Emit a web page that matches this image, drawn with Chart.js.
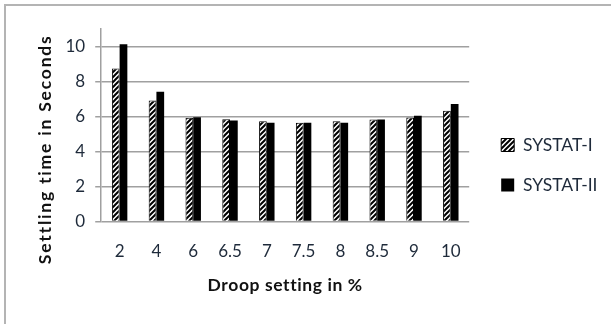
<!DOCTYPE html>
<html>
<head>
<meta charset="utf-8">
<script src="https://cdn.jsdelivr.net/npm/chart.js@4/dist/chart.umd.min.js"></script>
<style>
  html, body { margin: 0; padding: 0; background: #fff; }
  #frame {
    position: absolute; left: 4px; top: 4px; width: 620px; height: 340px;
    border-left: 2px solid #b4b4b4; border-top: 2px solid #b4b4b4;
  }
  #wrap { position: absolute; left: 0; top: 0; width: 611px; height: 324px; }
</style>
</head>
<body>
<div id="frame"></div>
<div id="wrap"><canvas id="c" width="611" height="324"></canvas></div>
<script>
// Droop settings (%) on the x axis
const droopSettings = ['2', '4', '6', '6.5', '7', '7.5', '8', '8.5', '9', '10'];
// Settling time in seconds for each controller
const systatI  = [8.75, 6.92, 5.93, 5.85, 5.73, 5.64, 5.73, 5.83, 5.94, 6.33];
const systatII = [10.13, 7.42, 5.96, 5.77, 5.64, 5.64, 5.64, 5.83, 6.04, 6.71];
const yTicks = [0, 2, 4, 6, 8, 10];

const FONT = 'Lato, "Liberation Sans", sans-serif';

// diagonal "/" hatch fill for the first series
function makeHatch(ctx) {
  const s = 5;
  const p = document.createElement('canvas');
  p.width = s; p.height = s;
  const g = p.getContext('2d');
  g.fillStyle = '#fff';
  g.fillRect(0, 0, s, s);
  g.strokeStyle = '#000';
  g.lineWidth = 2;
  g.beginPath();
  g.moveTo(-1, s + 1); g.lineTo(s + 1, -1);
  g.moveTo(-1, 1); g.lineTo(1, -1);
  g.moveTo(s - 1, s + 1); g.lineTo(s + 1, s - 1);
  g.stroke();
  return ctx.createPattern(p, 'repeat');
}

const canvas = document.getElementById('c');
const hatch = makeHatch(canvas.getContext('2d'));

// axis titles: extra letter spacing, and the y title sits a little lower
const titleStyle = {
  x: { spacing: '0.6px', dy: 0 },
  y: { spacing: '1.8px', dy: 24 }
};
const spacedTitles = {
  id: 'spacedTitles',
  afterLayout(chart) {
    Object.keys(titleStyle).forEach(id => {
      const sc = chart.scales[id];
      if (!sc || sc.drawTitle.__spaced) return;
      const orig = sc.drawTitle;
      const st = titleStyle[id];
      const f = function () {
        const c = chart.ctx;
        c.save();
        c.letterSpacing = st.spacing;
        c.translate(0, st.dy);
        orig.apply(this, arguments);
        c.restore();
      };
      f.__spaced = true;
      sc.drawTitle = f;
    });
    // legend sits a bit further from the plot area
    const lg = chart.legend;
    if (lg) {
      lg.left += 9.5; lg.right += 9.5;
      lg.top += 2.5; lg.bottom += 2.5;
    }
  }
};

new Chart(canvas, {
  type: 'bar',
  data: {
    labels: droopSettings,
    datasets: [
      { label: 'SYSTAT-I', data: systatI, backgroundColor: hatch, borderColor: '#000', borderWidth: 1 },
      { label: 'SYSTAT-II', data: systatII, backgroundColor: '#000', borderColor: '#000', borderWidth: 0 }
    ]
  },
  plugins: [spacedTitles],
  options: {
    responsive: false,
    animation: false,
    layout: { padding: { left: 30, top: 29, right: 13, bottom: 28 } },
    datasets: { bar: { categoryPercentage: 0.42, barPercentage: 1.0 } },
    plugins: {
      tooltip: { enabled: false },
      legend: {
        position: 'right',
        labels: {
          boxWidth: 13, boxHeight: 13, padding: 22.5,
          color: '#1e2a3a',
          font: { family: FONT, size: 17.5 }
        }
      }
    },
    scales: {
      x: {
        grid: { display: false, drawTicks: false },
        border: { display: false },
        ticks: { color: '#1e2a3a', padding: 20, font: { family: FONT, size: 17 } },
        title: { display: true, text: 'Droop setting in %', color: '#111',
                 padding: { top: -7, bottom: 0 },
                 font: { family: FONT, size: 17.5, weight: 'bold' } }
      },
      y: {
        min: 0, max: 11,
        afterBuildTicks: (axis) => { axis.ticks = yTicks.map(v => ({ value: v })); },
        grid: { color: '#a0a0a0', lineWidth: 1.5, tickLength: 6 },
        border: { display: true, color: '#a0a0a0', width: 1.5 },
        ticks: { color: '#1e2a3a', padding: 10, font: { family: FONT, size: 17 } },
        title: { display: true, text: 'Settling time in Seconds', color: '#111',
                 padding: { top: 4.5, bottom: 0 },
                 font: { family: FONT, size: 17.5, weight: 'bold' } }
      }
    }
  }
});
</script>
</body>
</html>
